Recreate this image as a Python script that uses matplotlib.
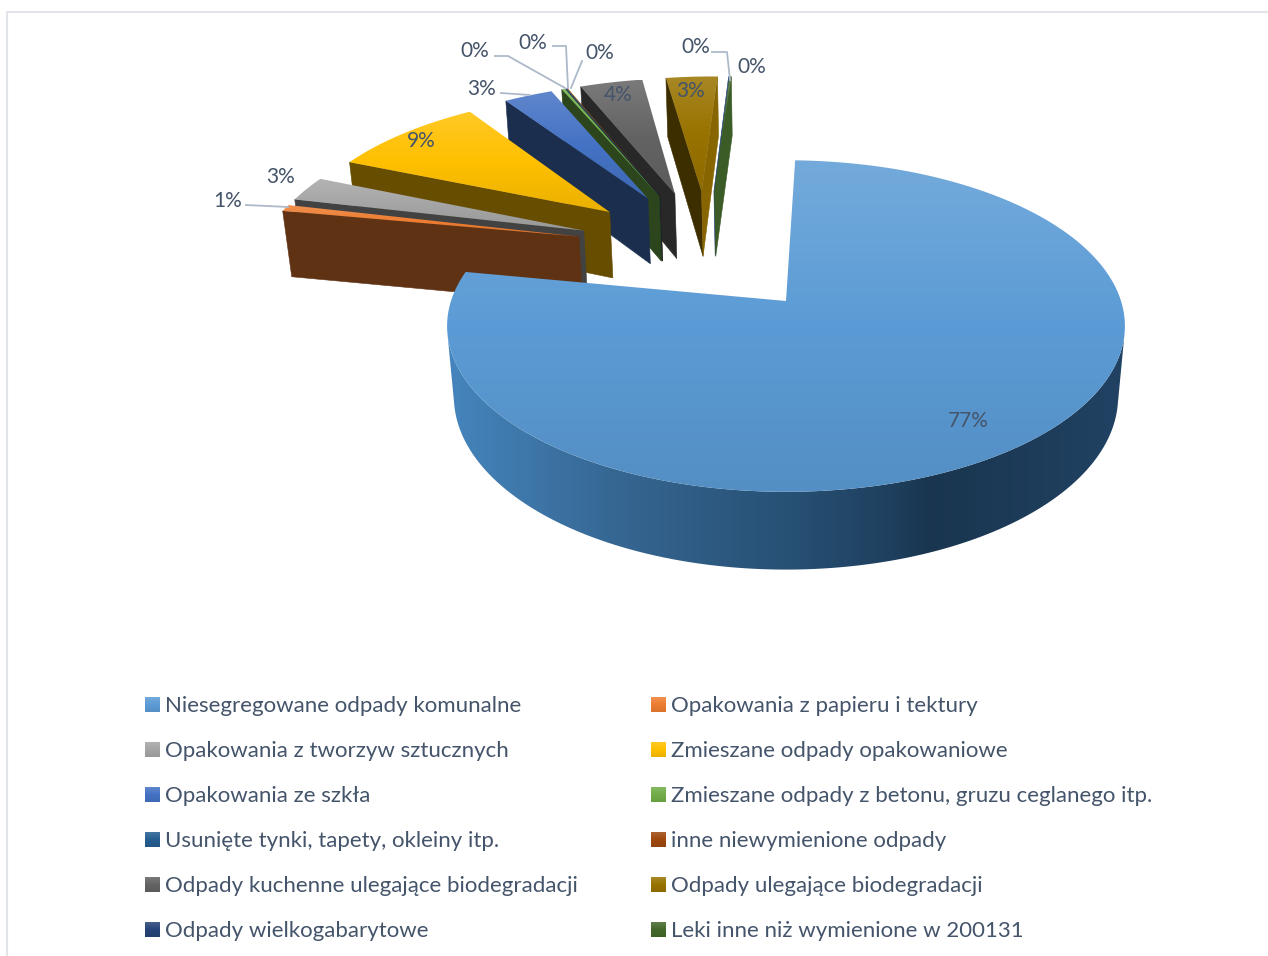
import numpy as np
import matplotlib
matplotlib.use('Agg')
import matplotlib.pyplot as plt
from matplotlib.colors import LinearSegmentedColormap, to_rgb
from matplotlib.patches import Polygon

# Dane
categories = ['Niesegregowane odpady komunalne', 'Opakowania z papieru i tektury',
              'Opakowania z tworzyw sztucznych', 'Zmieszane odpady opakowaniowe',
              'Opakowania ze szkła', 'Zmieszane odpady z betonu, gruzu ceglanego itp.',
              'Usunięte tynki, tapety, okleiny itp.', 'inne niewymienione odpady',
              'Odpady kuchenne ulegające biodegradacji', 'Odpady ulegające biodegradacji',
              'Odpady wielkogabarytowe', 'Leki inne niż wymienione w 200131']
values = [77.45, 0.7, 2.65, 9.0, 2.9, 0.2, 0.05, 0.05, 3.75, 3.1, 0.03, 0.12]
colors = ['#5B9BD5', '#ED7D31', '#A5A5A5', '#FFC000', '#4472C4', '#70AD47',
          '#255E91', '#9E480E', '#636363', '#997300', '#264478', '#43682B']

# pozycje etykiet (piksele) i linie odniesienia
label_pos = [(968, 421), (228, 201), (281, 177), (421, 141), (482, 89), (475, 51),
             (533, 43), (600, 53), (618, 95), (691, 91), (696, 47), (752, 67)]
leaders = [[(246, 205), (288, 207)],
           [(501, 93), (530, 95)],
           [(495, 56), (508, 56), (565, 88)],
           [(553, 46), (566, 46), (568, 88)],
           [(582, 61), (571, 88)],
           [(712, 52), (727, 52), (730, 80)]]

TEXT_COLOR = '#44546A'
plt.rcParams['font.family'] = ['Lato', 'DejaVu Sans']

# Parametry rzutu perspektywicznego
CX, CY = 786, 301
A, B, C = 335, 162, 71.4
K, M = 0.151, 0.02
START = 1.8
EXPLODE = 0.417
SHIFT = (0.012, 0.012)

# kolejnosc rysowania: od najdalszych do najblizszych
draw_order = [10, 11, 9, 8, 7, 6, 5, 4, 3, 2, 1, 0]


def project(x, y, z=0):
    w = 1 + K * y + M * z
    return CX + A * x / w, CY + (-B * y + C * z) / w


def direction(deg):
    return np.sin(np.radians(deg)), np.cos(np.radians(deg))


def blend(col, other, t):
    c, o = np.array(to_rgb(col)), np.array(to_rgb(other))
    return tuple(c + (o - c) * t)


def gradient_cmap(col):
    return LinearSegmentedColormap.from_list('g', [blend(col, 'white', 0.15), col, blend(col, 'black', 0.08)])


def signed_area(pts):
    x, y = np.array(pts).T
    return 0.5 * np.sum(x * np.roll(y, -1) - np.roll(x, -1) * y)


fig = plt.figure(figsize=(12.68, 9.56), dpi=100)
ax = fig.add_axes([0, 0, 1, 1])
grad = np.linspace(0, 1, 256).reshape(-1, 1)

# Ramka
ax.plot([7, 7, 1268], [956, 12, 12], color='#E1E4E8', lw=1.5, zorder=0)

angles = START + np.cumsum([0] + values) * 360 / sum(values)
mids = (angles[:-1] + angles[1:]) / 2
main_dir = direction(mids[0])

z = 1
for i in draw_order:
    a0, a1 = angles[i], angles[i + 1]
    d = direction(mids[i])
    if i == 0:
        ox, oy = 0, 0
    else:
        ox = EXPLODE * (d[0] - main_dir[0]) + SHIFT[0]
        oy = EXPLODE * (d[1] - main_dir[1]) + SHIFT[1]
    n = max(int((a1 - a0) * 2), 2)
    th = np.linspace(a0, a1, n)
    rim = [(ox + np.sin(np.radians(t)), oy + np.cos(np.radians(t))) for t in th]
    perimeter = [(ox, oy)] + rim + [(ox, oy)]

    # Sciany boczne
    wall_top, wall_bottom = [], []
    for j in range(len(perimeter) - 1):
        p, q = perimeter[j], perimeter[j + 1]
        quad = [project(*p), project(*q), project(*q, 1), project(*p, 1)]
        if signed_area(quad) >= 0:
            continue
        if j == 0:
            fc = blend(colors[i], 'black', 0.6)
        elif j == len(perimeter) - 2:
            fc = blend(colors[i], 'black', 0.12)
        elif i == 0:
            # duzy wycinek: jedna sciana z gradientem
            wall_top += [quad[0], quad[1]]
            wall_bottom += [quad[3], quad[2]]
            continue
        else:
            fc = blend(colors[i], 'black', 0.6)
        ax.add_patch(Polygon(quad, closed=True, facecolor=fc, edgecolor=fc, lw=0.4, zorder=z))
    if wall_top:
        wall = wall_top + wall_bottom[::-1]
        xs = [450, 620, 800, 890, 929, 1125]
        stops = [(0.27, 0.52, 0.74), (0.21, 0.40, 0.57), (0.15, 0.31, 0.45),
                 (0.12, 0.25, 0.37), (0.10, 0.21, 0.31), (0.13, 0.26, 0.39)]
        px = np.linspace(440, 1130, 690)
        img = np.array([[np.interp(x, xs, [s[c] for s in stops]) for c in range(3)] for x in px])
        im = ax.imshow(img[None, :, :], aspect='auto', zorder=z, extent=(440, 1130, 600, 300))
        im.set_clip_path(Polygon(wall, closed=True, transform=ax.transData))
    z += 1

    # Wierzch wycinka
    top = [project(*p) for p in perimeter[:-1]]
    xy = np.array(top)
    im = ax.imshow(grad, cmap=gradient_cmap(colors[i]), aspect='auto', zorder=z,
                   extent=(xy[:, 0].min(), xy[:, 0].max(), xy[:, 1].max(), xy[:, 1].min()))
    im.set_clip_path(Polygon(top, closed=True, transform=ax.transData))
    z += 1

# Linie odniesienia
for pts in leaders:
    xs, ys = zip(*pts)
    ax.plot(xs, ys, color='#ADB9CA', lw=1.3, zorder=z)

# Etykiety danych
for v, (x, y) in zip(values, label_pos):
    ax.text(x, y, f'{round(v)}%', color=TEXT_COLOR, fontsize=15, ha='center', va='center', zorder=z + 1)

# Legenda
for i, name in enumerate(categories):
    col, row = i % 2, i // 2
    x0 = 145 + col * 506
    y0 = 705 + row * 45
    ax.imshow(grad, cmap=gradient_cmap(colors[i]), aspect='auto', zorder=z,
              extent=(x0, x0 + 15, y0 + 7.5, y0 - 7.5))
    ax.text(x0 + 20, y0 + 1, name, color=TEXT_COLOR, fontsize=16, ha='left', va='center', zorder=z)

ax.set_xlim(0, 1268)
ax.set_ylim(956, 0)
ax.axis('off')

fig.savefig('out.png', dpi=100)
